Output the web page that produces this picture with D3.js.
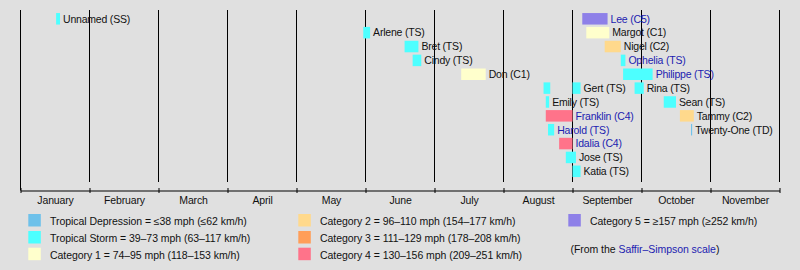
<!DOCTYPE html>
<html>
<head>
<meta charset="utf-8">
<script src="https://cdn.jsdelivr.net/npm/d3@7"></script>
<style>
  body { margin: 0; background: #e0e0e0; }
  svg { display: block; font-family: "Liberation Sans", Arial, sans-serif; }
</style>
</head>
<body>
<div id="chart"></div>
<script>
// storms, one entry per timeline bar row label
const stormNames = ['Unnamed', 'Arlene', 'Bret', 'Cindy', 'Don', 'Gert', 'Emily', 'Franklin', 'Harold', 'Idalia', 'Jose',
    'Katia', 'Lee', 'Margot', 'Nigel', 'Ophelia', 'Philippe', 'Rina', 'Sean', 'Tammy', 'Twenty-One'];
const stormCats = ['SS', 'TS', 'TS', 'TS', 'C1', 'TS', 'TS', 'C4', 'TS', 'C4', 'TS',
    'TS', 'C5', 'C1', 'C2', 'TS', 'TS', 'TS', 'TS', 'C2', 'TD'];
const stormRows = [0, 1, 2, 3, 4, 5, 6, 7, 8, 9, 10, 11, 0, 1, 2, 3, 4, 5, 6, 7, 8];
const stormLinked = ['Franklin', 'Harold', 'Idalia', 'Lee', 'Ophelia', 'Philippe'];
// active periods (Gert had two)
const stormPeriods = [
    [['2023-01-17', '2023-01-18 18:00']],
    [['2023-05-31', '2023-06-03']],
    [['2023-06-18', '2023-06-24']],
    [['2023-06-21 12:00', '2023-06-25 06:00']],
    [['2023-07-13', '2023-07-24']],
    [['2023-08-19', '2023-08-22'], ['2023-09-01', '2023-09-04 12:00']],
    [['2023-08-20', '2023-08-21 12:00']],
    [['2023-08-20', '2023-09-01']],
    [['2023-08-21', '2023-08-23 18:00']],
    [['2023-08-26', '2023-09-01']],
    [['2023-08-29', '2023-09-02 12:00']],
    [['2023-09-01', '2023-09-04 12:00']],
    [['2023-09-05 06:00', '2023-09-16 06:00']],
    [['2023-09-07', '2023-09-17']],
    [['2023-09-15', '2023-09-22']],
    [['2023-09-22', '2023-09-24']],
    [['2023-09-23', '2023-10-06']],
    [['2023-09-28', '2023-10-02']],
    [['2023-10-11', '2023-10-16 12:00']],
    [['2023-10-18 06:00', '2023-10-24 12:00']],
    [['2023-10-23 06:00', '2023-10-23 18:00']]
];

const monthNames = ['January', 'February', 'March', 'April', 'May', 'June', 'July', 'August', 'September', 'October', 'November'];

const catKeys = ['TD', 'TS', 'C1', 'C2', 'C3', 'C4', 'C5'];
const catColors = ['#6ec1ea', '#4dffff', '#ffffcc', '#ffd98c', '#ff9e59', '#ff738a', '#8e80e8'];
const legendLabels = [
    'Tropical Depression = ≤38 mph (≤62 km/h)',
    'Tropical Storm = 39–73 mph (63–117 km/h)',
    'Category 1 = 74–95 mph (118–153 km/h)',
    'Category 2 = 96–110 mph (154–177 km/h)',
    'Category 3 = 111–129 mph (178–208 km/h)',
    'Category 4 = 130–156 mph (209–251 km/h)',
    'Category 5 = ≥157 mph (≥252 km/h)'
];

const W = 800, H = 270;
const left = 20.5, right = 779.5;
const gridTop = 10, gridBottom = 182, axisY = 190.5;

const parseTime = d3.utcParse('%Y-%m-%d %H:%M');
const parse = s => parseTime(s.length > 10 ? s : s + ' 00:00');

const color = d3.scaleOrdinal().domain(catKeys).range(catColors).unknown('#4dffff');
const catColor = c => color(c === 'SS' ? 'TS' : c);

const svg = d3.select('#chart')
    .append('svg')
    .attr('width', W)
    .attr('height', H);

svg.append('rect').attr('width', W).attr('height', H).attr('fill', '#e0e0e0');

// months drawn with equal width
const monthStarts = d3.utcMonth.range(new Date(Date.UTC(2023, 0, 1)), new Date(Date.UTC(2023, 11, 2)));
const x = d3.scaleUtc()
    .domain(monthStarts)
    .range(monthStarts.map((d, i) => left + i * (right - left) / (monthStarts.length - 1)));

const y = d3.scalePoint()
    .domain(d3.range(12))
    .range([18.8, 171.3]);

const barH = 11.5;

// grid
svg.append('g')
    .selectAll('line')
    .data(monthStarts)
    .join('line')
    .attr('x1', d => x(d)).attr('x2', d => x(d))
    .attr('y1', gridTop)
    .attr('y2', (d, i) => i === 0 ? axisY : gridBottom)
    .attr('stroke', '#000')
    .attr('stroke-width', 1);

// axis ticks
const axis = svg.append('g')
    .attr('transform', `translate(0, ${axisY})`)
    .call(d3.axisBottom(x).tickValues(monthStarts).tickSizeInner(2.5).tickSizeOuter(0).tickFormat(''));
axis.select('.domain').attr('stroke', '#000');
axis.selectAll('.tick line').attr('y1', -2.5).attr('stroke', '#000');

// month labels centered in each month
const monthMids = monthStarts.slice(0, -1).map((d, i) => new Date((+d + +monthStarts[i + 1]) / 2));
const labels = svg.append('g')
    .attr('transform', `translate(0, ${axisY})`)
    .call(d3.axisBottom(x).tickValues(monthMids).tickSize(0).tickPadding(0)
        .tickFormat((d, i) => monthNames[i]));
labels.select('.domain').remove();
labels.selectAll('text')
    .attr('y', 13.6)
    .attr('dy', null)
    .attr('font-size', '10.5px')
    .attr('font-family', '"Liberation Sans", Arial, sans-serif')
    .attr('letter-spacing', '-0.15px')
    .attr('fill', '#111');

// bars
const bars = [];
stormNames.forEach((name, i) => {
    stormPeriods[i].forEach(p => bars.push({ i, start: parse(p[0]), end: parse(p[1]) }));
});

svg.append('g')
    .selectAll('rect')
    .data(bars)
    .join('rect')
    .attr('x', d => x(d.start))
    .attr('y', d => y(stormRows[d.i]) - barH / 2)
    .attr('width', d => Math.max(1, x(d.end) - x(d.start)))
    .attr('height', barH)
    .attr('fill', d => catColor(stormCats[d.i]));

// storm labels after the last period
svg.append('g')
    .selectAll('text')
    .data(stormNames)
    .join('text')
    .attr('x', (d, i) => x(parse(stormPeriods[i][stormPeriods[i].length - 1][1])) + 3)
    .attr('y', (d, i) => y(stormRows[i]) + 3.8)
    .attr('font-size', '10.5px')
    .attr('letter-spacing', '-0.2px')
    .attr('fill', d => stormLinked.includes(d) ? '#1c1cb0' : '#111')
    .text((d, i) => `${d} (${stormCats[i]})`);

// legend
const legendCols = [28.3, 298.3, 568.3];
const legendRowTop = [214, 231, 247.7];
const legend = svg.append('g')
    .selectAll('g')
    .data(catKeys)
    .join('g')
    .attr('transform', (d, i) => `translate(${legendCols[Math.floor(i / 3)]}, ${legendRowTop[i % 3]})`);

legend.append('rect')
    .attr('width', 12.5)
    .attr('height', 12.5)
    .attr('fill', d => color(d));

legend.append('text')
    .attr('x', 21.7)
    .attr('y', 11)
    .attr('font-size', '10.5px')
    .attr('letter-spacing', '-0.05px')
    .attr('fill', '#111')
    .text((d, i) => legendLabels[i]);

const source = svg.append('text')
    .attr('x', 570.5)
    .attr('y', 252.5)
    .attr('font-size', '10.5px')
    .attr('letter-spacing', '-0.05px')
    .attr('fill', '#111');
source.append('tspan').text('(From the ');
source.append('tspan').attr('fill', '#1c1cb0').text('Saffir–Simpson scale');
source.append('tspan').text(')');
</script>
</body>
</html>
